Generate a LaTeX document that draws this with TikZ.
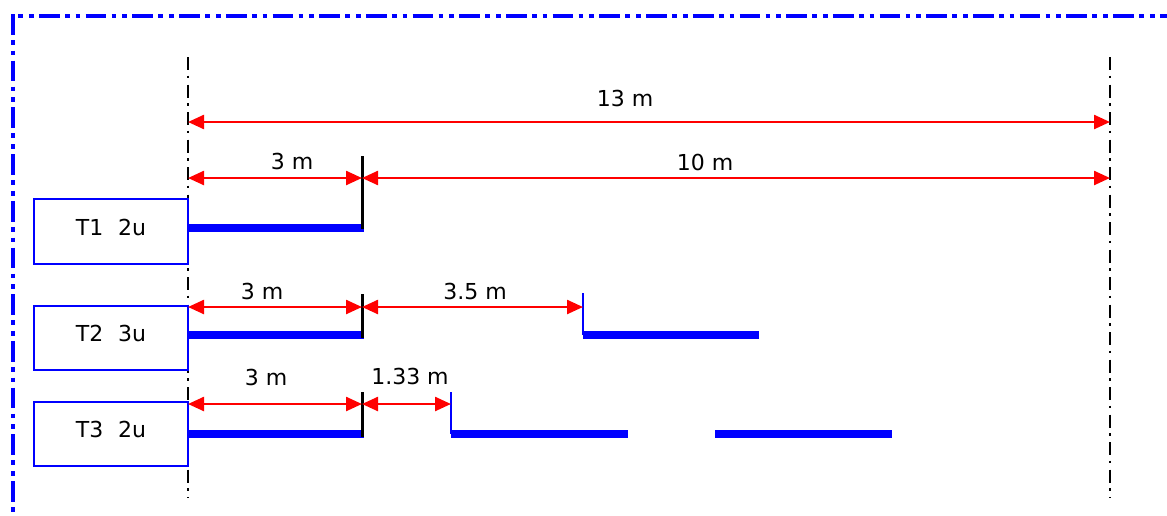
\documentclass[tikz,border=0pt]{standalone}
\usepackage{fontspec}
\setmainfont{DejaVu Sans}
\usetikzlibrary{arrows.meta}
\begin{document}
\begin{tikzpicture}[x=1pt,y=-1pt,
  dim/.style={red, line width=2.4pt, {Triangle[length=16pt,width=14pt]}-{Triangle[length=16pt,width=14pt]}},
  lbl/.style={font=\fontsize{22}{26}\selectfont, inner sep=0pt},
  tbox/.style={draw=blue, line width=2.4pt, fill=white, minimum width=154pt, minimum height=65pt,
    inner sep=0pt, text depth=9pt, font=\fontsize{22}{26}\selectfont},
  axisline/.style={black, line width=2.5pt, dash pattern=on 13pt off 5.5pt on 2.5pt off 6.5pt},
  tickline/.style={black, line width=3pt},
  bar/.style={blue, line width=8pt},
  riser/.style={blue, line width=2.4pt},
  framestyle/.style={blue, line width=4pt, dash pattern=on 20.7pt off 5.3pt on 4.7pt off 6pt on 4.7pt off 5.3pt}]
\useasboundingbox (0,0) rectangle (1167,515);

% frame
\coordinate (fc) at (13,14);
\coordinate (fb) at (13,520);
\coordinate (fr) at (1175,16);
\draw[framestyle] (fc) -- (fb);
\draw[framestyle, dash phase=20.7pt] (13,16) -- (fr);

% axis lines
\coordinate (L0) at (188,57);
\coordinate (L1) at (188,498);
\coordinate (R0) at (1110,57);
\coordinate (R1) at (1110,498);
\draw[axisline] (L0) -- (L1);
\draw[axisline] (R0) -- (R1);

% boxes
\node[tbox] (t1) at (111,231.5) {T1\hspace{15pt}2u};
\node[tbox, minimum height=64pt] (t2) at (111,338) {T2\hspace{15pt}3u};
\node[tbox, minimum height=64pt] (t3) at (111,434) {T3\hspace{15pt}2u};

% total dimension
\coordinate (a0l) at (188,122);
\coordinate (a0r) at (1110,122);
\draw[dim] (a0l) -- (a0r);
\node[lbl] (n13) at (625,98) {13 m};

% row 1
\coordinate (k1t) at (362,156);
\coordinate (k1b) at (362,229);
\coordinate (a1l) at (188,178);
\coordinate (a1m) at (362,178);
\coordinate (a1r) at (1110,178);
\coordinate (b1l) at (188,228);
\coordinate (b1r) at (364,228);
\draw[bar] (b1l) -- (b1r);
\draw[tickline] (k1t) -- (k1b);
\draw[dim] (a1l) -- (a1m);
\draw[dim] (a1m) -- (a1r);
\node[lbl] (n1a) at (292,161) {3 m};
\node[lbl] (n1b) at (705,162) {10 m};

% row 2
\coordinate (k2t) at (362,294);
\coordinate (k2b) at (362,338);
\coordinate (a2l) at (188,307);
\coordinate (a2m) at (362,307);
\coordinate (a2r) at (583,307);
\coordinate (b2l) at (188,334.5);
\coordinate (b2r) at (364,334.5);
\coordinate (r2t) at (583,293);
\coordinate (r2b) at (583,334.5);
\coordinate (b2e) at (759,334.5);
\draw[bar] (b2l) -- (b2r);
\draw[bar] (r2b) -- (b2e);
\draw[riser] (r2t) -- (r2b);
\draw[tickline] (k2t) -- (k2b);
\draw[dim] (a2l) -- (a2m);
\draw[dim] (a2m) -- (a2r);
\node[lbl] (n2a) at (262,291) {3 m};
\node[lbl] (n2b) at (475,291) {3.5 m};

% row 3
\coordinate (k3t) at (362,392);
\coordinate (k3b) at (362,437);
\coordinate (a3l) at (188,404);
\coordinate (a3m) at (362,404);
\coordinate (a3r) at (451,404);
\coordinate (b3l) at (188,433.5);
\coordinate (b3r) at (364,433.5);
\coordinate (r3t) at (451,392);
\coordinate (r3b) at (451,433.5);
\coordinate (b3e) at (628,433.5);
\coordinate (b3f) at (715,433.5);
\coordinate (b3g) at (892,433.5);
\draw[bar] (b3l) -- (b3r);
\draw[bar] (r3b) -- (b3e);
\draw[bar] (b3f) -- (b3g);
\draw[riser] (r3t) -- (r3b);
\draw[tickline] (k3t) -- (k3b);
\draw[dim] (a3l) -- (a3m);
\draw[dim] (a3m) -- (a3r);
\node[lbl] (n3a) at (266,377) {3 m};
\node[lbl] (n3b) at (410,376) {1.33 m};
\end{tikzpicture}
\end{document}
